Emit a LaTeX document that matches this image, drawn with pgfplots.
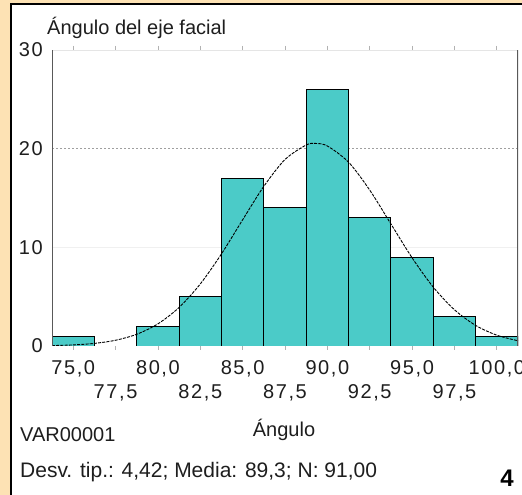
\documentclass[border=0pt]{standalone}
\usepackage{fontspec}
\setmainfont{Liberation Sans}
\newfontfamily\tickfont[LetterSpace=8]{Liberation Sans}
\usepackage{pgfplots}
\pgfplotsset{compat=1.18}
\definecolor{bgor}{HTML}{FDE2B4}
\definecolor{barc}{HTML}{4BCBC8}
\definecolor{txt}{HTML}{1E1E1E}
\begin{document}
\begin{tikzpicture}
\useasboundingbox (0,0) rectangle (522pt,495pt);
\fill[bgor] (0,0) rectangle (522pt,495pt);
\fill[white] (11pt,0) rectangle (522pt,491pt);
\draw[black, line width=1.6pt] (11pt,0) -- (11pt,491pt) -- (522pt,491pt);
\begin{axis}[
  at={(52pt,149pt)}, anchor=south west, scale only axis,
  width=466pt, height=296pt,
  xmin=73.75, xmax=101.25, ymin=0, ymax=30,
  axis line style={draw=none},
  xtick={75,80,85,90,95,100},
  xticklabels={{75,0},{80,0},{85,0},{90,0},{95,0},{100,0}},
  extra x ticks={77.5,82.5,87.5,92.5,97.5},
  extra x tick labels={{77,5},{82,5},{87,5},{92,5},{97,5}},
  extra x tick style={xticklabel style={yshift=-24pt}},
  ytick={0,10,20,30}, yticklabels={0,10,20,30},
  tick align=outside,
  major tick length=4pt,
  xtick style={draw=gray!60, line width=0.8pt},
  ytick style={draw=none},
  tick label style={font=\fontsize{20}{24}\tickfont, text=txt, inner sep=0pt},
  xticklabel style={anchor=base, yshift=-25pt},
  yticklabel style={anchor=east, xshift=-5pt},
]
\draw[gray!20, line width=0.8pt] (axis cs:73.75,30) -- (axis cs:101.25,30);
\draw[gray!12, line width=0.8pt] (axis cs:73.75,10) -- (axis cs:101.25,10);
\draw[gray!75, line width=0.9pt, dash pattern=on 2pt off 2pt] (axis cs:73.75,20) -- (axis cs:101.25,20);
\addplot[ybar, bar width=2.5, bar shift=0pt, fill=barc, draw=black, line width=0.9pt]
  coordinates {(75,1) (80,2) (82.5,5) (85,17) (87.5,14) (90,26) (92.5,13) (95,9) (97.5,3) (100,1)};
\addplot[black, line width=0.9pt, dash pattern=on 3pt off 1.2pt, smooth] coordinates {
 (73.75,0.042) (75,0.110) (76.25,0.263) (77.5,0.582) (78.75,1.189) (80,2.244)
 (81.25,3.909) (82.5,6.286) (83.75,9.333) (85,12.79) (86.25,16.18) (87.5,18.90)
 (88.75,20.37) (89.3,20.53) (90,20.27) (91.25,18.63) (92.5,15.80) (93.75,12.37)
 (95,8.939) (96.25,5.964) (97.5,3.673) (98.75,2.088) (100,1.096) (101.25,0.531)};
\draw[gray!70!black, line width=1.6pt] (rel axis cs:0,0) -- (rel axis cs:0,1);
\draw[gray!70!black, line width=1.6pt] (rel axis cs:1,0) -- (rel axis cs:1,1);
\end{axis}
\node[anchor=base west, font=\fontsize{20}{24}\selectfont, text=txt, inner sep=0pt] at (47pt,460pt) {Ángulo del eje facial};
\node[anchor=base, font=\fontsize{20}{24}\selectfont, text=txt, inner sep=0pt] at (284pt,58pt) {Ángulo};
\node[anchor=base west, font=\fontsize{20}{24}\selectfont, text=txt, inner sep=0pt] at (20pt,53pt) {VAR00001};
\node[anchor=base west, font=\fontsize{21}{25}\selectfont, text=txt, inner sep=0pt] at (20pt,17pt) {Desv. tip.: 4,42; Media: 89,3; N: 91,00};
\node[anchor=base, font=\fontsize{24}{28}\selectfont\bfseries, inner sep=0pt] at (507pt,8pt) {4};
\end{tikzpicture}
\end{document}
